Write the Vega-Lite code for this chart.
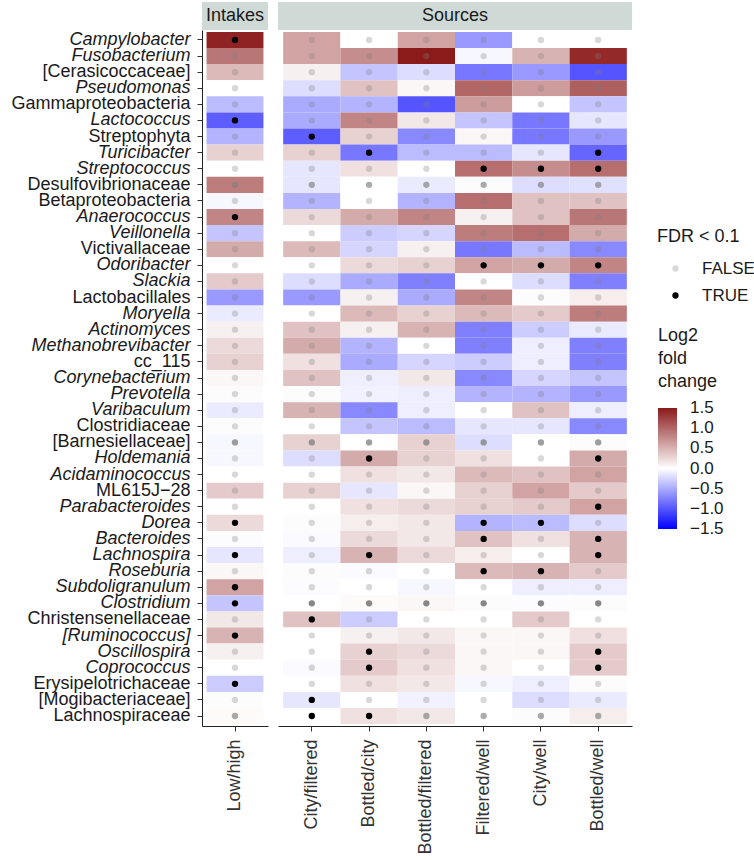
{
"$schema": "https://vega.github.io/schema/vega-lite/v6.json",
"padding": {"left": 10, "top": 2, "right": 30, "bottom": 0},
"config": {
  "font": "Liberation Sans",
  "view": {"stroke": null},
  "axis": {"grid": false, "domainColor": "#222222", "tickColor": "#333333", "tickSize": 5, "labelFontSize": 18, "labelLimit": 300}
},
"datasets": {"cells": [
{"taxon":"Campylobacter","contrast":"Low/high","lfc":1.45,"FDR":"TRUE","n":1},
{"taxon":"Campylobacter","contrast":"City/filtered","lfc":0.6,"FDR":"FALSE","n":1},
{"taxon":"Campylobacter","contrast":"Bottled/city","lfc":0.0,"FDR":"FALSE","n":1},
{"taxon":"Campylobacter","contrast":"Bottled/filtered","lfc":0.6,"FDR":"FALSE","n":1},
{"taxon":"Campylobacter","contrast":"Filtered/well","lfc":-0.6,"FDR":"FALSE","n":1},
{"taxon":"Campylobacter","contrast":"City/well","lfc":0.0,"FDR":"FALSE","n":1},
{"taxon":"Campylobacter","contrast":"Bottled/well","lfc":0.0,"FDR":"FALSE","n":1},
{"taxon":"Fusobacterium","contrast":"Low/high","lfc":0.9,"FDR":"FALSE","n":1},
{"taxon":"Fusobacterium","contrast":"City/filtered","lfc":0.6,"FDR":"FALSE","n":1},
{"taxon":"Fusobacterium","contrast":"Bottled/city","lfc":0.75,"FDR":"FALSE","n":1},
{"taxon":"Fusobacterium","contrast":"Bottled/filtered","lfc":1.5,"FDR":"FALSE","n":1},
{"taxon":"Fusobacterium","contrast":"Filtered/well","lfc":-0.05,"FDR":"FALSE","n":1},
{"taxon":"Fusobacterium","contrast":"City/well","lfc":0.5,"FDR":"FALSE","n":1},
{"taxon":"Fusobacterium","contrast":"Bottled/well","lfc":1.4,"FDR":"FALSE","n":1},
{"taxon":"[Cerasicoccaceae]","contrast":"Low/high","lfc":0.45,"FDR":"FALSE","n":1},
{"taxon":"[Cerasicoccaceae]","contrast":"City/filtered","lfc":0.1,"FDR":"FALSE","n":1},
{"taxon":"[Cerasicoccaceae]","contrast":"Bottled/city","lfc":-0.35,"FDR":"FALSE","n":1},
{"taxon":"[Cerasicoccaceae]","contrast":"Bottled/filtered","lfc":-0.2,"FDR":"FALSE","n":1},
{"taxon":"[Cerasicoccaceae]","contrast":"Filtered/well","lfc":-0.8,"FDR":"FALSE","n":1},
{"taxon":"[Cerasicoccaceae]","contrast":"City/well","lfc":-0.6,"FDR":"FALSE","n":1},
{"taxon":"[Cerasicoccaceae]","contrast":"Bottled/well","lfc":-1.0,"FDR":"FALSE","n":1},
{"taxon":"Pseudomonas","contrast":"Low/high","lfc":0.0,"FDR":"FALSE","n":1},
{"taxon":"Pseudomonas","contrast":"City/filtered","lfc":-0.2,"FDR":"FALSE","n":1},
{"taxon":"Pseudomonas","contrast":"Bottled/city","lfc":0.4,"FDR":"FALSE","n":1},
{"taxon":"Pseudomonas","contrast":"Bottled/filtered","lfc":0.05,"FDR":"FALSE","n":1},
{"taxon":"Pseudomonas","contrast":"Filtered/well","lfc":1.0,"FDR":"FALSE","n":1},
{"taxon":"Pseudomonas","contrast":"City/well","lfc":0.65,"FDR":"FALSE","n":1},
{"taxon":"Pseudomonas","contrast":"Bottled/well","lfc":1.05,"FDR":"FALSE","n":1},
{"taxon":"Gammaproteobacteria","contrast":"Low/high","lfc":-0.4,"FDR":"FALSE","n":1},
{"taxon":"Gammaproteobacteria","contrast":"City/filtered","lfc":-0.5,"FDR":"FALSE","n":1},
{"taxon":"Gammaproteobacteria","contrast":"Bottled/city","lfc":-0.45,"FDR":"FALSE","n":1},
{"taxon":"Gammaproteobacteria","contrast":"Bottled/filtered","lfc":-1.0,"FDR":"FALSE","n":1},
{"taxon":"Gammaproteobacteria","contrast":"Filtered/well","lfc":0.65,"FDR":"FALSE","n":1},
{"taxon":"Gammaproteobacteria","contrast":"City/well","lfc":0.0,"FDR":"FALSE","n":1},
{"taxon":"Gammaproteobacteria","contrast":"Bottled/well","lfc":-0.35,"FDR":"FALSE","n":1},
{"taxon":"Lactococcus","contrast":"Low/high","lfc":-0.95,"FDR":"TRUE","n":1},
{"taxon":"Lactococcus","contrast":"City/filtered","lfc":-0.5,"FDR":"FALSE","n":1},
{"taxon":"Lactococcus","contrast":"Bottled/city","lfc":0.8,"FDR":"FALSE","n":1},
{"taxon":"Lactococcus","contrast":"Bottled/filtered","lfc":0.15,"FDR":"FALSE","n":1},
{"taxon":"Lactococcus","contrast":"Filtered/well","lfc":-0.35,"FDR":"FALSE","n":1},
{"taxon":"Lactococcus","contrast":"City/well","lfc":-0.8,"FDR":"FALSE","n":1},
{"taxon":"Lactococcus","contrast":"Bottled/well","lfc":-0.15,"FDR":"FALSE","n":1},
{"taxon":"Streptophyta","contrast":"Low/high","lfc":-0.45,"FDR":"FALSE","n":1},
{"taxon":"Streptophyta","contrast":"City/filtered","lfc":-0.95,"FDR":"TRUE","n":1},
{"taxon":"Streptophyta","contrast":"Bottled/city","lfc":0.3,"FDR":"FALSE","n":1},
{"taxon":"Streptophyta","contrast":"Bottled/filtered","lfc":-0.7,"FDR":"FALSE","n":1},
{"taxon":"Streptophyta","contrast":"Filtered/well","lfc":0.05,"FDR":"FALSE","n":1},
{"taxon":"Streptophyta","contrast":"City/well","lfc":-0.8,"FDR":"FALSE","n":1},
{"taxon":"Streptophyta","contrast":"Bottled/well","lfc":-0.6,"FDR":"FALSE","n":1},
{"taxon":"Turicibacter","contrast":"Low/high","lfc":0.3,"FDR":"FALSE","n":1},
{"taxon":"Turicibacter","contrast":"City/filtered","lfc":0.3,"FDR":"FALSE","n":1},
{"taxon":"Turicibacter","contrast":"Bottled/city","lfc":-0.8,"FDR":"TRUE","n":1},
{"taxon":"Turicibacter","contrast":"Bottled/filtered","lfc":-0.4,"FDR":"FALSE","n":1},
{"taxon":"Turicibacter","contrast":"Filtered/well","lfc":-0.4,"FDR":"FALSE","n":1},
{"taxon":"Turicibacter","contrast":"City/well","lfc":-0.15,"FDR":"FALSE","n":1},
{"taxon":"Turicibacter","contrast":"Bottled/well","lfc":-0.9,"FDR":"TRUE","n":1},
{"taxon":"Streptococcus","contrast":"Low/high","lfc":0.0,"FDR":"FALSE","n":1},
{"taxon":"Streptococcus","contrast":"City/filtered","lfc":-0.15,"FDR":"FALSE","n":1},
{"taxon":"Streptococcus","contrast":"Bottled/city","lfc":0.2,"FDR":"FALSE","n":1},
{"taxon":"Streptococcus","contrast":"Bottled/filtered","lfc":0.0,"FDR":"FALSE","n":1},
{"taxon":"Streptococcus","contrast":"Filtered/well","lfc":0.95,"FDR":"TRUE","n":1},
{"taxon":"Streptococcus","contrast":"City/well","lfc":0.75,"FDR":"TRUE","n":1},
{"taxon":"Streptococcus","contrast":"Bottled/well","lfc":0.95,"FDR":"TRUE","n":1},
{"taxon":"Desulfovibrionaceae","contrast":"Low/high","lfc":0.85,"FDR":"FALSE","n":3},
{"taxon":"Desulfovibrionaceae","contrast":"City/filtered","lfc":-0.15,"FDR":"FALSE","n":3},
{"taxon":"Desulfovibrionaceae","contrast":"Bottled/city","lfc":0.0,"FDR":"FALSE","n":3},
{"taxon":"Desulfovibrionaceae","contrast":"Bottled/filtered","lfc":-0.12,"FDR":"FALSE","n":3},
{"taxon":"Desulfovibrionaceae","contrast":"Filtered/well","lfc":0.02,"FDR":"FALSE","n":3},
{"taxon":"Desulfovibrionaceae","contrast":"City/well","lfc":-0.2,"FDR":"FALSE","n":3},
{"taxon":"Desulfovibrionaceae","contrast":"Bottled/well","lfc":-0.18,"FDR":"FALSE","n":3},
{"taxon":"Betaproteobacteria","contrast":"Low/high","lfc":-0.05,"FDR":"FALSE","n":1},
{"taxon":"Betaproteobacteria","contrast":"City/filtered","lfc":-0.45,"FDR":"FALSE","n":1},
{"taxon":"Betaproteobacteria","contrast":"Bottled/city","lfc":0.0,"FDR":"FALSE","n":1},
{"taxon":"Betaproteobacteria","contrast":"Bottled/filtered","lfc":-0.45,"FDR":"FALSE","n":1},
{"taxon":"Betaproteobacteria","contrast":"Filtered/well","lfc":0.95,"FDR":"FALSE","n":1},
{"taxon":"Betaproteobacteria","contrast":"City/well","lfc":0.4,"FDR":"FALSE","n":1},
{"taxon":"Betaproteobacteria","contrast":"Bottled/well","lfc":0.4,"FDR":"FALSE","n":1},
{"taxon":"Anaerococcus","contrast":"Low/high","lfc":0.8,"FDR":"TRUE","n":1},
{"taxon":"Anaerococcus","contrast":"City/filtered","lfc":0.25,"FDR":"FALSE","n":1},
{"taxon":"Anaerococcus","contrast":"Bottled/city","lfc":0.55,"FDR":"FALSE","n":1},
{"taxon":"Anaerococcus","contrast":"Bottled/filtered","lfc":0.8,"FDR":"FALSE","n":1},
{"taxon":"Anaerococcus","contrast":"Filtered/well","lfc":0.1,"FDR":"FALSE","n":1},
{"taxon":"Anaerococcus","contrast":"City/well","lfc":0.4,"FDR":"FALSE","n":1},
{"taxon":"Anaerococcus","contrast":"Bottled/well","lfc":0.9,"FDR":"FALSE","n":1},
{"taxon":"Veillonella","contrast":"Low/high","lfc":-0.35,"FDR":"FALSE","n":1},
{"taxon":"Veillonella","contrast":"City/filtered","lfc":0.0,"FDR":"FALSE","n":1},
{"taxon":"Veillonella","contrast":"Bottled/city","lfc":-0.3,"FDR":"FALSE","n":1},
{"taxon":"Veillonella","contrast":"Bottled/filtered","lfc":-0.25,"FDR":"FALSE","n":1},
{"taxon":"Veillonella","contrast":"Filtered/well","lfc":0.85,"FDR":"FALSE","n":1},
{"taxon":"Veillonella","contrast":"City/well","lfc":0.95,"FDR":"FALSE","n":1},
{"taxon":"Veillonella","contrast":"Bottled/well","lfc":0.55,"FDR":"FALSE","n":1},
{"taxon":"Victivallaceae","contrast":"Low/high","lfc":0.55,"FDR":"FALSE","n":1},
{"taxon":"Victivallaceae","contrast":"City/filtered","lfc":0.45,"FDR":"FALSE","n":1},
{"taxon":"Victivallaceae","contrast":"Bottled/city","lfc":-0.25,"FDR":"FALSE","n":1},
{"taxon":"Victivallaceae","contrast":"Bottled/filtered","lfc":0.1,"FDR":"FALSE","n":1},
{"taxon":"Victivallaceae","contrast":"Filtered/well","lfc":-0.8,"FDR":"FALSE","n":1},
{"taxon":"Victivallaceae","contrast":"City/well","lfc":-0.4,"FDR":"FALSE","n":1},
{"taxon":"Victivallaceae","contrast":"Bottled/well","lfc":-0.7,"FDR":"FALSE","n":1},
{"taxon":"Odoribacter","contrast":"Low/high","lfc":0.0,"FDR":"FALSE","n":1},
{"taxon":"Odoribacter","contrast":"City/filtered","lfc":0.0,"FDR":"FALSE","n":1},
{"taxon":"Odoribacter","contrast":"Bottled/city","lfc":0.25,"FDR":"FALSE","n":1},
{"taxon":"Odoribacter","contrast":"Bottled/filtered","lfc":0.3,"FDR":"FALSE","n":1},
{"taxon":"Odoribacter","contrast":"Filtered/well","lfc":0.6,"FDR":"TRUE","n":1},
{"taxon":"Odoribacter","contrast":"City/well","lfc":0.55,"FDR":"TRUE","n":1},
{"taxon":"Odoribacter","contrast":"Bottled/well","lfc":0.8,"FDR":"TRUE","n":1},
{"taxon":"Slackia","contrast":"Low/high","lfc":0.35,"FDR":"FALSE","n":1},
{"taxon":"Slackia","contrast":"City/filtered","lfc":-0.2,"FDR":"FALSE","n":1},
{"taxon":"Slackia","contrast":"Bottled/city","lfc":-0.5,"FDR":"FALSE","n":1},
{"taxon":"Slackia","contrast":"Bottled/filtered","lfc":-0.75,"FDR":"FALSE","n":1},
{"taxon":"Slackia","contrast":"Filtered/well","lfc":0.0,"FDR":"FALSE","n":1},
{"taxon":"Slackia","contrast":"City/well","lfc":-0.2,"FDR":"FALSE","n":1},
{"taxon":"Slackia","contrast":"Bottled/well","lfc":-0.75,"FDR":"FALSE","n":1},
{"taxon":"Lactobacillales","contrast":"Low/high","lfc":-0.6,"FDR":"FALSE","n":1},
{"taxon":"Lactobacillales","contrast":"City/filtered","lfc":-0.6,"FDR":"FALSE","n":1},
{"taxon":"Lactobacillales","contrast":"Bottled/city","lfc":0.1,"FDR":"FALSE","n":1},
{"taxon":"Lactobacillales","contrast":"Bottled/filtered","lfc":-0.5,"FDR":"FALSE","n":1},
{"taxon":"Lactobacillales","contrast":"Filtered/well","lfc":0.8,"FDR":"FALSE","n":1},
{"taxon":"Lactobacillales","contrast":"City/well","lfc":0.02,"FDR":"FALSE","n":1},
{"taxon":"Lactobacillales","contrast":"Bottled/well","lfc":0.12,"FDR":"FALSE","n":1},
{"taxon":"Moryella","contrast":"Low/high","lfc":-0.12,"FDR":"FALSE","n":1},
{"taxon":"Moryella","contrast":"City/filtered","lfc":0.0,"FDR":"FALSE","n":1},
{"taxon":"Moryella","contrast":"Bottled/city","lfc":0.45,"FDR":"FALSE","n":1},
{"taxon":"Moryella","contrast":"Bottled/filtered","lfc":0.3,"FDR":"FALSE","n":1},
{"taxon":"Moryella","contrast":"Filtered/well","lfc":0.45,"FDR":"FALSE","n":1},
{"taxon":"Moryella","contrast":"City/well","lfc":0.35,"FDR":"FALSE","n":1},
{"taxon":"Moryella","contrast":"Bottled/well","lfc":0.85,"FDR":"FALSE","n":1},
{"taxon":"Actinomyces","contrast":"Low/high","lfc":0.1,"FDR":"FALSE","n":1},
{"taxon":"Actinomyces","contrast":"City/filtered","lfc":0.4,"FDR":"FALSE","n":1},
{"taxon":"Actinomyces","contrast":"Bottled/city","lfc":0.1,"FDR":"FALSE","n":1},
{"taxon":"Actinomyces","contrast":"Bottled/filtered","lfc":0.5,"FDR":"FALSE","n":1},
{"taxon":"Actinomyces","contrast":"Filtered/well","lfc":-0.75,"FDR":"FALSE","n":1},
{"taxon":"Actinomyces","contrast":"City/well","lfc":-0.3,"FDR":"FALSE","n":1},
{"taxon":"Actinomyces","contrast":"Bottled/well","lfc":-0.12,"FDR":"FALSE","n":1},
{"taxon":"Methanobrevibacter","contrast":"Low/high","lfc":0.25,"FDR":"FALSE","n":1},
{"taxon":"Methanobrevibacter","contrast":"City/filtered","lfc":0.55,"FDR":"FALSE","n":1},
{"taxon":"Methanobrevibacter","contrast":"Bottled/city","lfc":-0.45,"FDR":"FALSE","n":1},
{"taxon":"Methanobrevibacter","contrast":"Bottled/filtered","lfc":0.0,"FDR":"FALSE","n":1},
{"taxon":"Methanobrevibacter","contrast":"Filtered/well","lfc":-0.75,"FDR":"FALSE","n":1},
{"taxon":"Methanobrevibacter","contrast":"City/well","lfc":-0.1,"FDR":"FALSE","n":1},
{"taxon":"Methanobrevibacter","contrast":"Bottled/well","lfc":-0.75,"FDR":"FALSE","n":1},
{"taxon":"cc_115","contrast":"Low/high","lfc":0.3,"FDR":"FALSE","n":1},
{"taxon":"cc_115","contrast":"City/filtered","lfc":0.2,"FDR":"FALSE","n":1},
{"taxon":"cc_115","contrast":"Bottled/city","lfc":-0.5,"FDR":"FALSE","n":1},
{"taxon":"cc_115","contrast":"Bottled/filtered","lfc":-0.25,"FDR":"FALSE","n":1},
{"taxon":"cc_115","contrast":"Filtered/well","lfc":-0.3,"FDR":"FALSE","n":1},
{"taxon":"cc_115","contrast":"City/well","lfc":-0.1,"FDR":"FALSE","n":1},
{"taxon":"cc_115","contrast":"Bottled/well","lfc":-0.75,"FDR":"FALSE","n":1},
{"taxon":"Corynebacterium","contrast":"Low/high","lfc":0.05,"FDR":"FALSE","n":1},
{"taxon":"Corynebacterium","contrast":"City/filtered","lfc":0.4,"FDR":"FALSE","n":1},
{"taxon":"Corynebacterium","contrast":"Bottled/city","lfc":-0.1,"FDR":"FALSE","n":1},
{"taxon":"Corynebacterium","contrast":"Bottled/filtered","lfc":0.15,"FDR":"FALSE","n":1},
{"taxon":"Corynebacterium","contrast":"Filtered/well","lfc":-0.7,"FDR":"FALSE","n":1},
{"taxon":"Corynebacterium","contrast":"City/well","lfc":-0.25,"FDR":"FALSE","n":1},
{"taxon":"Corynebacterium","contrast":"Bottled/well","lfc":-0.35,"FDR":"FALSE","n":1},
{"taxon":"Prevotella","contrast":"Low/high","lfc":0.02,"FDR":"FALSE","n":1},
{"taxon":"Prevotella","contrast":"City/filtered","lfc":0.02,"FDR":"FALSE","n":1},
{"taxon":"Prevotella","contrast":"Bottled/city","lfc":-0.08,"FDR":"FALSE","n":1},
{"taxon":"Prevotella","contrast":"Bottled/filtered","lfc":-0.1,"FDR":"FALSE","n":1},
{"taxon":"Prevotella","contrast":"Filtered/well","lfc":-0.45,"FDR":"FALSE","n":1},
{"taxon":"Prevotella","contrast":"City/well","lfc":-0.45,"FDR":"FALSE","n":1},
{"taxon":"Prevotella","contrast":"Bottled/well","lfc":-0.6,"FDR":"FALSE","n":1},
{"taxon":"Varibaculum","contrast":"Low/high","lfc":-0.12,"FDR":"FALSE","n":1},
{"taxon":"Varibaculum","contrast":"City/filtered","lfc":0.5,"FDR":"FALSE","n":1},
{"taxon":"Varibaculum","contrast":"Bottled/city","lfc":-0.7,"FDR":"FALSE","n":1},
{"taxon":"Varibaculum","contrast":"Bottled/filtered","lfc":-0.1,"FDR":"FALSE","n":1},
{"taxon":"Varibaculum","contrast":"Filtered/well","lfc":0.0,"FDR":"FALSE","n":1},
{"taxon":"Varibaculum","contrast":"City/well","lfc":0.4,"FDR":"FALSE","n":1},
{"taxon":"Varibaculum","contrast":"Bottled/well","lfc":-0.1,"FDR":"FALSE","n":1},
{"taxon":"Clostridiaceae","contrast":"Low/high","lfc":0.02,"FDR":"FALSE","n":1},
{"taxon":"Clostridiaceae","contrast":"City/filtered","lfc":0.0,"FDR":"FALSE","n":1},
{"taxon":"Clostridiaceae","contrast":"Bottled/city","lfc":-0.35,"FDR":"FALSE","n":1},
{"taxon":"Clostridiaceae","contrast":"Bottled/filtered","lfc":-0.4,"FDR":"FALSE","n":1},
{"taxon":"Clostridiaceae","contrast":"Filtered/well","lfc":-0.15,"FDR":"FALSE","n":1},
{"taxon":"Clostridiaceae","contrast":"City/well","lfc":-0.15,"FDR":"FALSE","n":1},
{"taxon":"Clostridiaceae","contrast":"Bottled/well","lfc":-0.7,"FDR":"FALSE","n":1},
{"taxon":"[Barnesiellaceae]","contrast":"Low/high","lfc":-0.05,"FDR":"FALSE","n":4},
{"taxon":"[Barnesiellaceae]","contrast":"City/filtered","lfc":0.3,"FDR":"FALSE","n":4},
{"taxon":"[Barnesiellaceae]","contrast":"Bottled/city","lfc":0.0,"FDR":"FALSE","n":4},
{"taxon":"[Barnesiellaceae]","contrast":"Bottled/filtered","lfc":0.3,"FDR":"FALSE","n":4},
{"taxon":"[Barnesiellaceae]","contrast":"Filtered/well","lfc":-0.2,"FDR":"FALSE","n":4},
{"taxon":"[Barnesiellaceae]","contrast":"City/well","lfc":0.0,"FDR":"FALSE","n":4},
{"taxon":"[Barnesiellaceae]","contrast":"Bottled/well","lfc":0.02,"FDR":"FALSE","n":4},
{"taxon":"Holdemania","contrast":"Low/high","lfc":-0.05,"FDR":"FALSE","n":1},
{"taxon":"Holdemania","contrast":"City/filtered","lfc":-0.2,"FDR":"FALSE","n":1},
{"taxon":"Holdemania","contrast":"Bottled/city","lfc":0.55,"FDR":"TRUE","n":1},
{"taxon":"Holdemania","contrast":"Bottled/filtered","lfc":0.3,"FDR":"FALSE","n":1},
{"taxon":"Holdemania","contrast":"Filtered/well","lfc":0.2,"FDR":"FALSE","n":1},
{"taxon":"Holdemania","contrast":"City/well","lfc":0.0,"FDR":"FALSE","n":1},
{"taxon":"Holdemania","contrast":"Bottled/well","lfc":0.55,"FDR":"TRUE","n":1},
{"taxon":"Acidaminococcus","contrast":"Low/high","lfc":0.0,"FDR":"FALSE","n":1},
{"taxon":"Acidaminococcus","contrast":"City/filtered","lfc":0.0,"FDR":"FALSE","n":1},
{"taxon":"Acidaminococcus","contrast":"Bottled/city","lfc":0.2,"FDR":"FALSE","n":1},
{"taxon":"Acidaminococcus","contrast":"Bottled/filtered","lfc":0.15,"FDR":"FALSE","n":1},
{"taxon":"Acidaminococcus","contrast":"Filtered/well","lfc":0.45,"FDR":"FALSE","n":1},
{"taxon":"Acidaminococcus","contrast":"City/well","lfc":0.4,"FDR":"FALSE","n":1},
{"taxon":"Acidaminococcus","contrast":"Bottled/well","lfc":0.6,"FDR":"FALSE","n":1},
{"taxon":"ML615J−28","contrast":"Low/high","lfc":0.35,"FDR":"FALSE","n":1},
{"taxon":"ML615J−28","contrast":"City/filtered","lfc":0.3,"FDR":"FALSE","n":1},
{"taxon":"ML615J−28","contrast":"Bottled/city","lfc":-0.15,"FDR":"FALSE","n":1},
{"taxon":"ML615J−28","contrast":"Bottled/filtered","lfc":0.05,"FDR":"FALSE","n":1},
{"taxon":"ML615J−28","contrast":"Filtered/well","lfc":0.3,"FDR":"FALSE","n":1},
{"taxon":"ML615J−28","contrast":"City/well","lfc":0.6,"FDR":"FALSE","n":1},
{"taxon":"ML615J−28","contrast":"Bottled/well","lfc":0.35,"FDR":"FALSE","n":1},
{"taxon":"Parabacteroides","contrast":"Low/high","lfc":0.0,"FDR":"FALSE","n":1},
{"taxon":"Parabacteroides","contrast":"City/filtered","lfc":0.0,"FDR":"FALSE","n":1},
{"taxon":"Parabacteroides","contrast":"Bottled/city","lfc":0.2,"FDR":"FALSE","n":1},
{"taxon":"Parabacteroides","contrast":"Bottled/filtered","lfc":0.25,"FDR":"FALSE","n":1},
{"taxon":"Parabacteroides","contrast":"Filtered/well","lfc":0.3,"FDR":"FALSE","n":1},
{"taxon":"Parabacteroides","contrast":"City/well","lfc":0.35,"FDR":"FALSE","n":1},
{"taxon":"Parabacteroides","contrast":"Bottled/well","lfc":0.6,"FDR":"TRUE","n":1},
{"taxon":"Dorea","contrast":"Low/high","lfc":0.25,"FDR":"TRUE","n":1},
{"taxon":"Dorea","contrast":"City/filtered","lfc":0.02,"FDR":"FALSE","n":1},
{"taxon":"Dorea","contrast":"Bottled/city","lfc":0.12,"FDR":"FALSE","n":1},
{"taxon":"Dorea","contrast":"Bottled/filtered","lfc":0.15,"FDR":"FALSE","n":1},
{"taxon":"Dorea","contrast":"Filtered/well","lfc":-0.45,"FDR":"TRUE","n":1},
{"taxon":"Dorea","contrast":"City/well","lfc":-0.4,"FDR":"TRUE","n":1},
{"taxon":"Dorea","contrast":"Bottled/well","lfc":-0.2,"FDR":"FALSE","n":1},
{"taxon":"Bacteroides","contrast":"Low/high","lfc":-0.02,"FDR":"FALSE","n":1},
{"taxon":"Bacteroides","contrast":"City/filtered","lfc":-0.03,"FDR":"FALSE","n":1},
{"taxon":"Bacteroides","contrast":"Bottled/city","lfc":0.25,"FDR":"FALSE","n":1},
{"taxon":"Bacteroides","contrast":"Bottled/filtered","lfc":0.15,"FDR":"FALSE","n":1},
{"taxon":"Bacteroides","contrast":"Filtered/well","lfc":0.4,"FDR":"TRUE","n":1},
{"taxon":"Bacteroides","contrast":"City/well","lfc":0.2,"FDR":"FALSE","n":1},
{"taxon":"Bacteroides","contrast":"Bottled/well","lfc":0.5,"FDR":"TRUE","n":1},
{"taxon":"Lachnospira","contrast":"Low/high","lfc":-0.15,"FDR":"TRUE","n":1},
{"taxon":"Lachnospira","contrast":"City/filtered","lfc":-0.1,"FDR":"FALSE","n":1},
{"taxon":"Lachnospira","contrast":"Bottled/city","lfc":0.5,"FDR":"TRUE","n":1},
{"taxon":"Lachnospira","contrast":"Bottled/filtered","lfc":0.25,"FDR":"FALSE","n":1},
{"taxon":"Lachnospira","contrast":"Filtered/well","lfc":0.12,"FDR":"FALSE","n":1},
{"taxon":"Lachnospira","contrast":"City/well","lfc":0.0,"FDR":"FALSE","n":1},
{"taxon":"Lachnospira","contrast":"Bottled/well","lfc":0.5,"FDR":"TRUE","n":1},
{"taxon":"Roseburia","contrast":"Low/high","lfc":0.05,"FDR":"FALSE","n":1},
{"taxon":"Roseburia","contrast":"City/filtered","lfc":0.02,"FDR":"FALSE","n":1},
{"taxon":"Roseburia","contrast":"Bottled/city","lfc":-0.03,"FDR":"FALSE","n":1},
{"taxon":"Roseburia","contrast":"Bottled/filtered","lfc":0.0,"FDR":"FALSE","n":1},
{"taxon":"Roseburia","contrast":"Filtered/well","lfc":0.45,"FDR":"TRUE","n":1},
{"taxon":"Roseburia","contrast":"City/well","lfc":0.5,"FDR":"TRUE","n":1},
{"taxon":"Roseburia","contrast":"Bottled/well","lfc":0.35,"FDR":"FALSE","n":1},
{"taxon":"Subdoligranulum","contrast":"Low/high","lfc":0.6,"FDR":"TRUE","n":1},
{"taxon":"Subdoligranulum","contrast":"City/filtered","lfc":-0.02,"FDR":"FALSE","n":1},
{"taxon":"Subdoligranulum","contrast":"Bottled/city","lfc":0.0,"FDR":"FALSE","n":1},
{"taxon":"Subdoligranulum","contrast":"Bottled/filtered","lfc":-0.05,"FDR":"FALSE","n":1},
{"taxon":"Subdoligranulum","contrast":"Filtered/well","lfc":0.0,"FDR":"FALSE","n":1},
{"taxon":"Subdoligranulum","contrast":"City/well","lfc":-0.1,"FDR":"FALSE","n":1},
{"taxon":"Subdoligranulum","contrast":"Bottled/well","lfc":-0.1,"FDR":"FALSE","n":1},
{"taxon":"Clostridium","contrast":"Low/high","lfc":-0.35,"FDR":"TRUE","n":8},
{"taxon":"Clostridium","contrast":"City/filtered","lfc":0.0,"FDR":"FALSE","n":8},
{"taxon":"Clostridium","contrast":"Bottled/city","lfc":0.03,"FDR":"FALSE","n":8},
{"taxon":"Clostridium","contrast":"Bottled/filtered","lfc":0.05,"FDR":"FALSE","n":8},
{"taxon":"Clostridium","contrast":"Filtered/well","lfc":0.02,"FDR":"FALSE","n":8},
{"taxon":"Clostridium","contrast":"City/well","lfc":-0.02,"FDR":"FALSE","n":8},
{"taxon":"Clostridium","contrast":"Bottled/well","lfc":0.02,"FDR":"FALSE","n":8},
{"taxon":"Christensenellaceae","contrast":"Low/high","lfc":0.15,"FDR":"FALSE","n":1},
{"taxon":"Christensenellaceae","contrast":"City/filtered","lfc":0.4,"FDR":"TRUE","n":1},
{"taxon":"Christensenellaceae","contrast":"Bottled/city","lfc":-0.3,"FDR":"FALSE","n":1},
{"taxon":"Christensenellaceae","contrast":"Bottled/filtered","lfc":0.0,"FDR":"FALSE","n":1},
{"taxon":"Christensenellaceae","contrast":"Filtered/well","lfc":0.0,"FDR":"FALSE","n":1},
{"taxon":"Christensenellaceae","contrast":"City/well","lfc":0.35,"FDR":"FALSE","n":1},
{"taxon":"Christensenellaceae","contrast":"Bottled/well","lfc":0.0,"FDR":"FALSE","n":1},
{"taxon":"[Ruminococcus]","contrast":"Low/high","lfc":0.5,"FDR":"TRUE","n":1},
{"taxon":"[Ruminococcus]","contrast":"City/filtered","lfc":0.0,"FDR":"FALSE","n":1},
{"taxon":"[Ruminococcus]","contrast":"Bottled/city","lfc":0.1,"FDR":"FALSE","n":1},
{"taxon":"[Ruminococcus]","contrast":"Bottled/filtered","lfc":0.15,"FDR":"FALSE","n":1},
{"taxon":"[Ruminococcus]","contrast":"Filtered/well","lfc":0.05,"FDR":"FALSE","n":1},
{"taxon":"[Ruminococcus]","contrast":"City/well","lfc":0.05,"FDR":"FALSE","n":1},
{"taxon":"[Ruminococcus]","contrast":"Bottled/well","lfc":0.2,"FDR":"FALSE","n":1},
{"taxon":"Oscillospira","contrast":"Low/high","lfc":0.1,"FDR":"FALSE","n":1},
{"taxon":"Oscillospira","contrast":"City/filtered","lfc":0.0,"FDR":"FALSE","n":1},
{"taxon":"Oscillospira","contrast":"Bottled/city","lfc":0.3,"FDR":"TRUE","n":1},
{"taxon":"Oscillospira","contrast":"Bottled/filtered","lfc":0.25,"FDR":"FALSE","n":1},
{"taxon":"Oscillospira","contrast":"Filtered/well","lfc":0.05,"FDR":"FALSE","n":1},
{"taxon":"Oscillospira","contrast":"City/well","lfc":0.05,"FDR":"FALSE","n":1},
{"taxon":"Oscillospira","contrast":"Bottled/well","lfc":0.35,"FDR":"TRUE","n":1},
{"taxon":"Coprococcus","contrast":"Low/high","lfc":0.0,"FDR":"FALSE","n":1},
{"taxon":"Coprococcus","contrast":"City/filtered","lfc":-0.03,"FDR":"FALSE","n":1},
{"taxon":"Coprococcus","contrast":"Bottled/city","lfc":0.35,"FDR":"TRUE","n":1},
{"taxon":"Coprococcus","contrast":"Bottled/filtered","lfc":0.2,"FDR":"FALSE","n":1},
{"taxon":"Coprococcus","contrast":"Filtered/well","lfc":0.05,"FDR":"FALSE","n":1},
{"taxon":"Coprococcus","contrast":"City/well","lfc":0.0,"FDR":"FALSE","n":1},
{"taxon":"Coprococcus","contrast":"Bottled/well","lfc":0.35,"FDR":"TRUE","n":1},
{"taxon":"Erysipelotrichaceae","contrast":"Low/high","lfc":-0.3,"FDR":"TRUE","n":1},
{"taxon":"Erysipelotrichaceae","contrast":"City/filtered","lfc":0.0,"FDR":"FALSE","n":1},
{"taxon":"Erysipelotrichaceae","contrast":"Bottled/city","lfc":0.2,"FDR":"FALSE","n":1},
{"taxon":"Erysipelotrichaceae","contrast":"Bottled/filtered","lfc":0.15,"FDR":"FALSE","n":1},
{"taxon":"Erysipelotrichaceae","contrast":"Filtered/well","lfc":-0.05,"FDR":"FALSE","n":1},
{"taxon":"Erysipelotrichaceae","contrast":"City/well","lfc":-0.1,"FDR":"FALSE","n":1},
{"taxon":"Erysipelotrichaceae","contrast":"Bottled/well","lfc":0.02,"FDR":"FALSE","n":1},
{"taxon":"[Mogibacteriaceae]","contrast":"Low/high","lfc":0.02,"FDR":"FALSE","n":1},
{"taxon":"[Mogibacteriaceae]","contrast":"City/filtered","lfc":-0.15,"FDR":"TRUE","n":1},
{"taxon":"[Mogibacteriaceae]","contrast":"Bottled/city","lfc":0.0,"FDR":"FALSE","n":1},
{"taxon":"[Mogibacteriaceae]","contrast":"Bottled/filtered","lfc":-0.08,"FDR":"FALSE","n":1},
{"taxon":"[Mogibacteriaceae]","contrast":"Filtered/well","lfc":0.0,"FDR":"FALSE","n":1},
{"taxon":"[Mogibacteriaceae]","contrast":"City/well","lfc":-0.2,"FDR":"FALSE","n":1},
{"taxon":"[Mogibacteriaceae]","contrast":"Bottled/well","lfc":-0.12,"FDR":"FALSE","n":1},
{"taxon":"Lachnospiraceae","contrast":"Low/high","lfc":0.03,"FDR":"FALSE","n":3},
{"taxon":"Lachnospiraceae","contrast":"City/filtered","lfc":0.0,"FDR":"TRUE","n":3},
{"taxon":"Lachnospiraceae","contrast":"Bottled/city","lfc":0.2,"FDR":"TRUE","n":3},
{"taxon":"Lachnospiraceae","contrast":"Bottled/filtered","lfc":0.15,"FDR":"FALSE","n":3},
{"taxon":"Lachnospiraceae","contrast":"Filtered/well","lfc":0.0,"FDR":"FALSE","n":3},
{"taxon":"Lachnospiraceae","contrast":"City/well","lfc":0.02,"FDR":"FALSE","n":3},
{"taxon":"Lachnospiraceae","contrast":"Bottled/well","lfc":0.12,"FDR":"FALSE","n":3}
]},
"hconcat": [
  {
    "bounds": "flush",
    "spacing": 0,
    "vconcat": [
      {
        "width": 66, "height": 28,
        "data": {"values": [{"panel": "Intakes"}]},
        "layer": [
          {"mark": {"type": "rect", "fill": "#cfdad6"}, "encoding": {}},
          {"mark": {"type": "text", "fontSize": 18, "color": "#1a1a1a"}, "encoding": {"text": {"field": "panel"}}}
        ]
      },
      {
        "width": 66, "height": 696,
        "data": {"name": "cells"},
        "transform": [{"filter": "datum.contrast === 'Low/high'"}],
        "encoding": {
          "x": {"field": "contrast", "type": "nominal", "scale": {"paddingOuter": 0.08, "paddingInner": 0},
                "axis": {"title": null, "labelAngle": -90, "labelColor": "#333333", "labelPadding": 8}},
          "y": {"field": "taxon", "type": "nominal",
                "sort": ["Campylobacter","Fusobacterium","[Cerasicoccaceae]","Pseudomonas","Gammaproteobacteria","Lactococcus","Streptophyta","Turicibacter","Streptococcus","Desulfovibrionaceae","Betaproteobacteria","Anaerococcus","Veillonella","Victivallaceae","Odoribacter","Slackia","Lactobacillales","Moryella","Actinomyces","Methanobrevibacter","cc_115","Corynebacterium","Prevotella","Varibaculum","Clostridiaceae","[Barnesiellaceae]","Holdemania","Acidaminococcus","ML615J−28","Parabacteroides","Dorea","Bacteroides","Lachnospira","Roseburia","Subdoligranulum","Clostridium","Christensenellaceae","[Ruminococcus]","Oscillospira","Coprococcus","Erysipelotrichaceae","[Mogibacteriaceae]","Lachnospiraceae"],
                "scale": {"paddingOuter": 0.12, "paddingInner": 0},
                "axis": {"title": null, "labelColor": "#1a1a1a", "labelPadding": 7,
                         "labelFontStyle": {"condition": {"test": "indexof(['[Cerasicoccaceae]','Gammaproteobacteria','Streptophyta','Desulfovibrionaceae','Betaproteobacteria','Victivallaceae','Lactobacillales','cc_115','Clostridiaceae','[Barnesiellaceae]','ML615J−28','Christensenellaceae','Erysipelotrichaceae','[Mogibacteriaceae]','Lachnospiraceae'], datum.value) < 0", "value": "italic"}, "value": "normal"}}}
        },
        "layer": [
          {"mark": {"type": "rect"},
           "encoding": {"fill": {"field": "lfc", "type": "quantitative",
             "scale": {"domain": [-1.5, 0, 1.5], "range": ["#0000ff", "#ffffff", "#8b1a1a"], "interpolate": "rgb"},
             "legend": {"title": ["Log2", "fold", "change"], "orient": "none", "legendX": 456, "legendY": 325, "direction": "vertical",
                        "gradientLength": 121, "gradientThickness": 19, "values": [1.5, 1, 0.5, 0, -0.5, -1, -1.5], "format": ".1f",
                        "labelFontSize": 17, "labelColor": "#1a1a1a", "titleFontSize": 18, "titleFontWeight": "normal", "titleColor": "#1a1a1a",
                        "labelOverlap": false, "labelBaseline": "middle", "labelOffset": 13, "titlePadding": 17, "titleLineHeight": 23, "gradientStrokeWidth": 0,
                        "encode": {"labels": {"update": {"baseline": {"value": "middle"}}}}}}}},
          {"mark": {"type": "point", "filled": true, "size": 40, "strokeWidth": 0},
           "encoding": {
             "color": {"field": "FDR", "type": "nominal", "scale": {"domain": ["FALSE", "TRUE"], "range": ["#7f7f7f", "#000000"]},
               "legend": {"title": "FDR < 0.1", "orient": "none", "legendX": 455, "legendY": 226, "symbolType": "circle", "symbolSize": 40,
                          "labelFontSize": 17, "labelColor": "#1a1a1a", "titleFontSize": 18, "titleFontWeight": "normal", "titleColor": "#1a1a1a",
                          "rowPadding": 9, "titlePadding": 14, "symbolOffset": 10, "labelOffset": 18, "symbolStrokeWidth": 0,
                          "encode": {"symbols": {"update": {"opacity": {"signal": "datum.value === 'TRUE' ? 1 : 0.3"}}}}}},
             "opacity": {"condition": {"test": "datum.FDR === 'TRUE'", "value": 1}, "field": "n", "type": "quantitative",
               "scale": {"domain": [1, 2, 3, 4, 8], "range": [0.3, 0.51, 0.66, 0.76, 0.94]}, "legend": null}
           }}
        ]
      }
    ]
  },
  {
    "bounds": "flush",
    "spacing": 0,
    "vconcat": [
      {
        "width": 354, "height": 28,
        "data": {"values": [{"panel": "Sources"}]},
        "layer": [
          {"mark": {"type": "rect", "fill": "#cfdad6"}, "encoding": {}},
          {"mark": {"type": "text", "fontSize": 18, "color": "#1a1a1a"}, "encoding": {"text": {"field": "panel"}}}
        ]
      },
      {
        "width": 354, "height": 696,
        "data": {"name": "cells"},
        "transform": [{"filter": "datum.contrast !== 'Low/high'"}],
        "encoding": {
          "x": {"field": "contrast", "type": "nominal",
                "sort": ["City/filtered","Bottled/city","Bottled/filtered","Filtered/well","City/well","Bottled/well"],
                "scale": {"paddingOuter": 0.09, "paddingInner": 0},
                "axis": {"title": null, "labelAngle": -90, "labelColor": "#333333", "labelPadding": 8}},
          "y": {"field": "taxon", "type": "nominal",
                "sort": ["Campylobacter","Fusobacterium","[Cerasicoccaceae]","Pseudomonas","Gammaproteobacteria","Lactococcus","Streptophyta","Turicibacter","Streptococcus","Desulfovibrionaceae","Betaproteobacteria","Anaerococcus","Veillonella","Victivallaceae","Odoribacter","Slackia","Lactobacillales","Moryella","Actinomyces","Methanobrevibacter","cc_115","Corynebacterium","Prevotella","Varibaculum","Clostridiaceae","[Barnesiellaceae]","Holdemania","Acidaminococcus","ML615J−28","Parabacteroides","Dorea","Bacteroides","Lachnospira","Roseburia","Subdoligranulum","Clostridium","Christensenellaceae","[Ruminococcus]","Oscillospira","Coprococcus","Erysipelotrichaceae","[Mogibacteriaceae]","Lachnospiraceae"],
                "scale": {"paddingOuter": 0.12, "paddingInner": 0},
                "axis": null}
        },
        "layer": [
          {"mark": {"type": "rect"},
           "encoding": {"fill": {"field": "lfc", "type": "quantitative",
             "scale": {"domain": [-1.5, 0, 1.5], "range": ["#0000ff", "#ffffff", "#8b1a1a"], "interpolate": "rgb"}}}},
          {"mark": {"type": "point", "filled": true, "size": 40, "strokeWidth": 0},
           "encoding": {
             "color": {"field": "FDR", "type": "nominal", "scale": {"domain": ["FALSE", "TRUE"], "range": ["#7f7f7f", "#000000"]}},
             "opacity": {"condition": {"test": "datum.FDR === 'TRUE'", "value": 1}, "field": "n", "type": "quantitative",
               "scale": {"domain": [1, 2, 3, 4, 8], "range": [0.3, 0.51, 0.66, 0.76, 0.94]}, "legend": null}
           }}
        ]
      }
    ]
  }
],
"spacing": 10,
"resolve": {"scale": {"fill": "shared", "color": "shared", "opacity": "shared"}}
}
